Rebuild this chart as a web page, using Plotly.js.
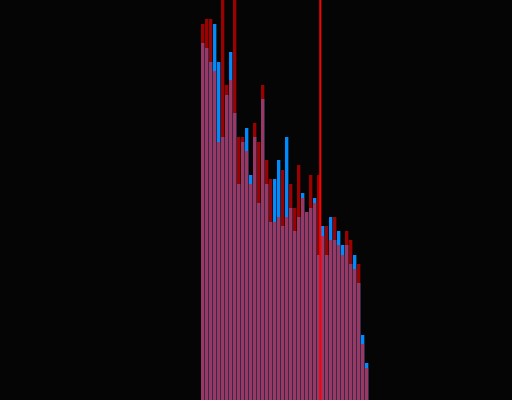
<!DOCTYPE html>
<html>
<head>
<meta charset="utf-8">
<script src="https://cdn.plot.ly/plotly-3.0.1.min.js"></script>
<style>html,body{margin:0;padding:0;background:#050505;}#chart{width:512px;height:400px;}</style>
</head>
<body>
<div id="chart"></div>
<script>
const categories = [0,1,2,3,4,5,6,7,8,9,10,11,12,13,14,15,16,17,18,19,20,21,22,23,24,25,26,27,28,29,30,31,32,33,34,35,36,37,38,39,40,41];
const blueValues = [357,352,338,376,338,263,305,348,287,216,258,272,225,263,197,301,216,178,221,240,174,263,192,169,183,207,188,192,202,145,174,145,183,160,169,155,155,136,145,117,65,37];
const redValues  = [376,381,381,329,258,420,315,320,410,263,263,249,216,277,258,315,240,221,178,183,230,183,216,192,235,202,188,225,197,225,164,174,160,183,155,145,169,160,131,136,56,32];
const markerX = 29.4;

const traces = [
  {type:'bar', x:categories, y:blueValues, marker:{color:'rgb(0,140,255)'}, hoverinfo:'none'},
  {type:'bar', x:categories, y:redValues, marker:{color:'rgb(255,0,0)'}, opacity:0.6, hoverinfo:'none'}
];
const layout = {
  width:512, height:400,
  margin:{l:0,r:0,t:0,b:0,pad:0},
  paper_bgcolor:'#050505', plot_bgcolor:'#050505',
  barmode:'overlay', bargap:0.17,
  showlegend:false,
  xaxis:{range:[-50.67,77.33], visible:false, showgrid:false, zeroline:false},
  yaxis:{range:[0,400], visible:false, showgrid:false, zeroline:false},
  shapes:[{type:'line', xref:'x', yref:'paper', x0:markerX, x1:markerX, y0:0, y1:1, line:{color:'rgb(255,0,0)', width:2}, layer:'above'}]
};
Plotly.newPlot('chart', traces, layout, {staticPlot:true, displayModeBar:false});
</script>
</body>
</html>
